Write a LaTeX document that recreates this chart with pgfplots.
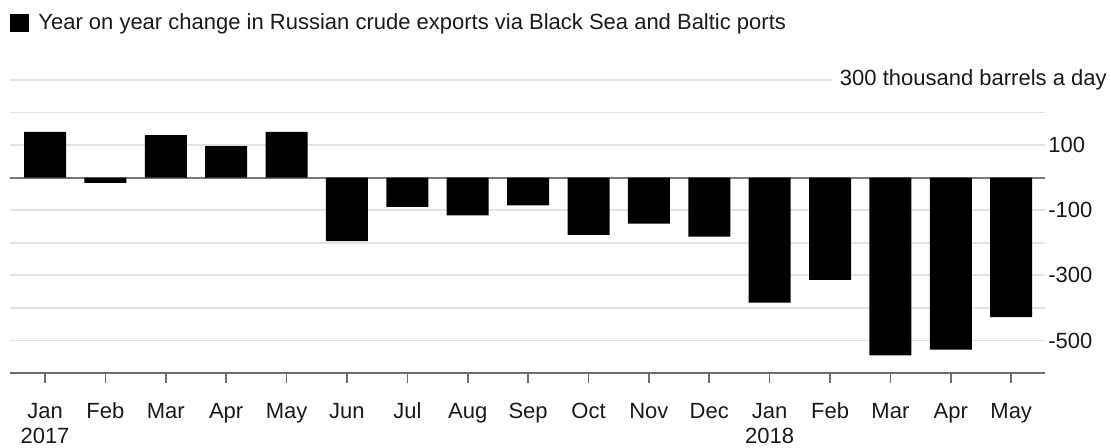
\documentclass[border=0pt]{standalone}
\usepackage{pgfplots}
\pgfplotsset{compat=1.18}
\usepackage{fontspec}
\setmainfont{Liberation Sans}
\definecolor{txt}{HTML}{1A1A1A}
\definecolor{gridc}{HTML}{E3E3E3}
\definecolor{zeroc}{HTML}{7A7A7A}
\definecolor{axc}{HTML}{6E6E6E}
\begin{document}
\begin{tikzpicture}
\useasboundingbox (0,0) rectangle (555.5pt,223.5pt);
\begin{axis}[
  at={(5pt,37pt)}, anchor=south west,
  scale only axis, width=517.5pt, height=146.5pt,
  clip=false,
  ybar, bar width=21pt,
  xmin=-0.58, xmax=16.56, ymin=-600, ymax=300,
  xtick={0,...,16},
  xticklabels={Jan,Feb,Mar,Apr,May,Jun,Jul,Aug,Sep,Oct,Nov,Dec,Jan,Feb,Mar,Apr,May},
  xticklabel style={font=\fontsize{11}{15}\selectfont, text=txt, anchor=north,
    text height=8pt, text depth=2pt, yshift=-6pt},
  extra x ticks={0,12}, extra x tick labels={2017,2018},
  extra x tick style={major tick length=0pt, xticklabel style={yshift=-17.5pt}},
  xtick align=outside, major tick length=5pt,
  x tick style={draw=axc, line width=0.8pt},
  axis x line*=bottom,
  x axis line style={draw=axc, line width=0.8pt, -},
  y axis line style={draw=none},
  ytick={-500,-400,-300,-200,-100,100,200,300},
  yticklabels={-500,,-300,,-100,100,,},
  yticklabel pos=right,
  y tick style={draw=none},
  yticklabel style={anchor=west, font=\fontsize{11}{15}\selectfont, text=txt, inner xsep=0pt, xshift=1.5pt},
  ymajorgrids, grid style={draw=gridc, line width=0.9pt},
  extra y ticks={0}, extra y tick labels={},
  extra y tick style={grid style={draw=zeroc, line width=0.9pt}},
  legend style={at={(axis description cs:0,1.1945)}, anchor=west, draw=none, fill=none,
    font=\fontsize{11}{15}\selectfont, text=txt, inner sep=0pt, legend cell align=left},
  legend image code/.code={\fill[black] (0pt,-4.5pt) rectangle (9.5pt,4.5pt); \path (12pt,0pt);},
]
\addplot[fill=black, draw=none] coordinates {
(0,141) (1,-16) (2,131) (3,97) (4,141) (5,-195) (6,-90) (7,-116) (8,-85)
(9,-176) (10,-141) (11,-181) (12,-384) (13,-314) (14,-546) (15,-528) (16,-428)};
\addlegendentry{Year on year change in Russian crude exports via Black Sea and Baltic ports}
\node[anchor=east, fill=white, inner xsep=4pt, inner ysep=2pt, xshift=35pt,
  font=\fontsize{11}{15}\selectfont, text=txt] at (rel axis cs:1,1) {300 thousand barrels a day};
\end{axis}
\end{tikzpicture}
\end{document}
